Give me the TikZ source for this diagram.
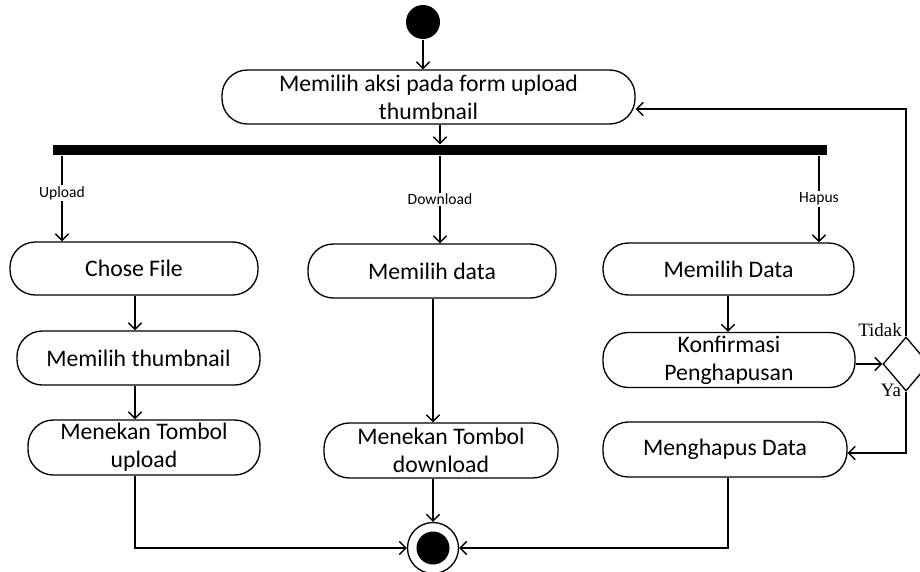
\documentclass[tikz,border=0pt]{standalone}
\usepackage{fontspec}
\setmainfont{Carlito}
\newfontfamily\timesf{Liberation Serif}
\usetikzlibrary{arrows.meta,shapes.geometric}
\begin{document}
\begin{tikzpicture}[x=0.75pt,y=-0.75pt,
  line width=1pt,
  act/.style={draw, rounded corners=19pt, align=center, inner sep=0pt, font=\fontsize{17.8}{21}\selectfont},
  arr/.style={-{Straight Barb[length=5pt,width=10pt]}},
  lbl/.style={fill=white, inner sep=1pt, font=\fontsize{11.7}{14}\selectfont},
  yt/.style={font=\timesf\fontsize{14.2}{17}\selectfont, inner sep=0pt}]
\useasboundingbox (0,0) rectangle (920,571);
% start / end
\node[circle, fill=black, minimum size=25.5pt, inner sep=0pt] (start) at (423,22) {};
\node[circle, draw, minimum size=38.25pt, inner sep=0pt] (end) at (433,548) {};
\node[circle, fill=black, minimum size=24.75pt, inner sep=0pt] (endin) at (end.center) {};
% activities
\node[act, minimum width=309.75pt, minimum height=40.5pt] (top) at (428.5,97) {Memilih aksi pada form upload\\thumbnail};
\node[fill=black, minimum width=580.5pt, minimum height=7.5pt, inner sep=0pt] (bar) at (440,150) {};
\node[act, minimum width=186pt, minimum height=39.75pt] (chose) at (134,268.5) {Chose File};
\node[act, minimum width=182.25pt, minimum height=40.5pt] (thumb) at (138.5,358) {Memilih thumbnail};
\node[act, minimum width=174pt, minimum height=41.25pt] (upl) at (144,447.5) {Menekan Tombol\\upload};
\node[act, minimum width=186pt, minimum height=40.5pt] (mdata) at (432,271) {Memilih data};
\node[act, minimum width=175.5pt, minimum height=41.25pt] (dl) at (441,450.5) {Menekan Tombol\\download};
\node[act, minimum width=188.25pt, minimum height=39pt] (hdata) at (728.5,269) {Memilih Data};
\node[act, minimum width=189pt, minimum height=41.25pt] (konf) at (729,360) {Konfirmasi\\Penghapusan};
\node[act, minimum width=183pt, minimum height=41.25pt] (hapus) at (725,449.5) {Menghapus Data};
\node[diamond, draw, minimum width=34.5pt, minimum height=40.5pt, inner sep=0pt] (dia) at (906,364) {};
\node[yt] (tidak) at (880,330) {Tidak};
\node[yt] (ya) at (891,390) {Ya};
% helper x positions
\coordinate (xu) at (62,0);
\coordinate (xh) at (819,0);
\coordinate (xl) at (135,0);
\coordinate (xr) at (728,0);
% connectors
\draw[arr] (start) -- (start |- top.north);
\draw[arr] (top.south -| bar.north) -- (bar.north);
\draw[arr] (bar.south -| xu) -- node[lbl,pos=0.44]{Upload} (chose.north -| xu);
\draw[arr] (bar.south) -- node[lbl,pos=0.5]{Download} (mdata.north -| bar.south);
\draw[arr] (bar.south -| xh) -- node[lbl,pos=0.5]{Hapus} (hdata.north -| xh);
\draw[arr] (chose.south -| xl) -- (thumb.north -| xl);
\draw[arr] (thumb.south -| xl) -- (upl.north -| xl);
\draw[arr] (mdata.south -| end) -- (dl.north -| end);
\draw[arr] (hdata.south -| xr) -- (konf.north -| xr);
\draw[arr] (konf.east |- dia.west) -- (dia.west);
\draw[arr] (dia.north) |- ([yshift=-9pt]top.east);
\draw[arr] (dia.south) |- ([yshift=-2.6pt]hapus.east);
\draw[arr] (upl.south -| xl) |- (end.west);
\draw[arr] (dl.south -| end) -- (end.north);
\draw[arr] (hapus.south -| xr) |- (end.east);
\end{tikzpicture}
\end{document}
